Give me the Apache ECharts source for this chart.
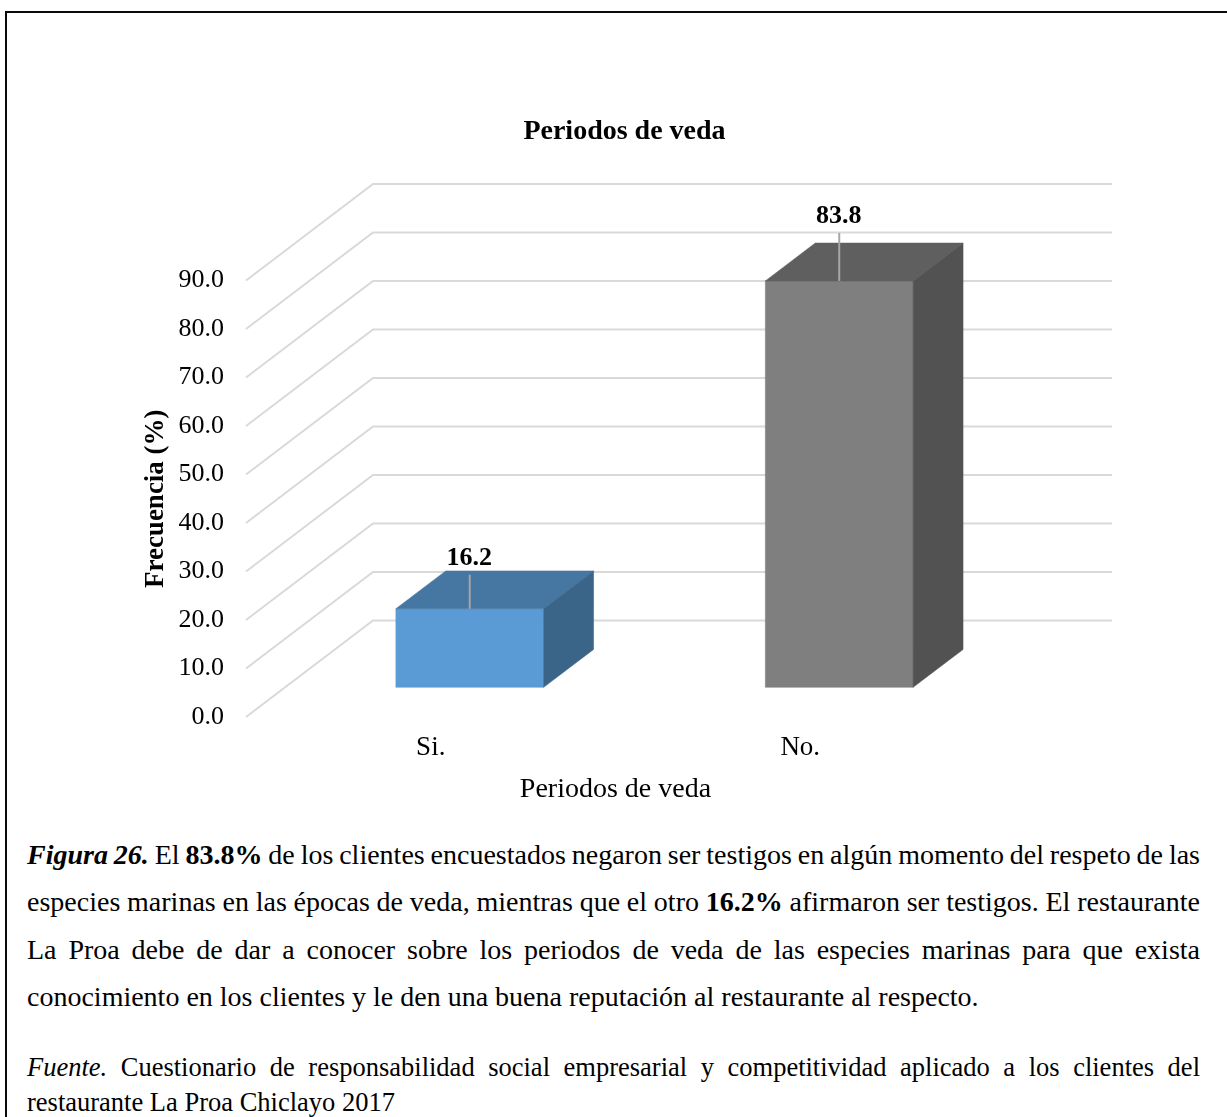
<!DOCTYPE html>
<html lang="es">
<head>
<meta charset="utf-8">
<title>Periodos de veda</title>
<script src="https://cdn.jsdelivr.net/npm/echarts@6/dist/echarts.min.js"></script>
<style>
  html, body { margin: 0; padding: 0; background: #fff; }
  #page { position: relative; width: 1227px; height: 1117px; overflow: hidden; }
  #frame { position: absolute; left: 5px; top: 11px; width: 1222px; height: 1106px;
           border-left: 2.5px solid #0a0a0a; border-top: 2.5px solid #0a0a0a; box-sizing: border-box; }
  #chart { position: absolute; left: 0; top: 0; width: 1227px; height: 820px; }
  .line { position: absolute; left: 27px; color: #000; white-space: nowrap;
          font-family: "Liberation Serif", "Times New Roman", serif; }
  .cap { font-size: 28px; line-height: 30px; }
  .src { font-size: 26.5px; line-height: 26px; }
</style>
</head>
<body>
<div id="page">
  <div id="frame"></div>
  <div id="chart"></div>
  <div class="line cap fit" style="top:840px"><b><i>Figura 26.</i></b> El <b>83.8%</b> de los clientes encuestados negaron ser testigos en algún momento del respeto de las</div>
  <div class="line cap fit" style="top:887px">especies marinas en las épocas de veda, mientras que el otro <b>16.2%</b> afirmaron ser testigos. El restaurante</div>
  <div class="line cap fit" style="top:935px">La Proa debe de dar a conocer sobre los periodos de veda de las especies marinas para que exista</div>
  <div class="line cap" style="top:982px">conocimiento en los clientes y le den una buena reputación al restaurante al respecto.</div>
  <div class="line src fit" style="top:1054px"><i>Fuente.</i> Cuestionario de responsabilidad social empresarial y competitividad aplicado a los clientes del</div>
  <div class="line src" style="top:1089px">restaurante La Proa Chiclayo 2017</div>
</div>
<script>
// Survey results: share of respondents per answer
const categories = ['Si.', 'No.'];
const values = [16.2, 83.8];
const ticks = [0, 10, 20, 30, 40, 50, 60, 70, 80, 90];
const chartTitle = 'Periodos de veda';
const xName = 'Periodos de veda';
const yName = 'Frecuencia (%)';

const SERIF = '"Liberation Serif", "Times New Roman", serif';
const palette = [
  { front: '#5b9bd5', top: '#4676a2', side: '#3a6488' },
  { front: '#7f7f7f', top: '#5f5f5f', side: '#525252' }
];

// Justify the caption lines by distributing the leftover width across word gaps,
// which also tightens lines slightly wider than the column
const COLUMN_WIDTH = 1173;
document.querySelectorAll('.fit').forEach(el => {
  const gaps = el.textContent.trim().split(/\s+/).length - 1;
  el.style.wordSpacing = (COLUMN_WIDTH - el.getBoundingClientRect().width) / gaps + 'px';
});

// Oblique projection of the floor depth, as a pixel shift per unit of depth
const DEPTH_X = 127, DEPTH_Y = -96.5;
const BAR_NEAR = 0.307, BAR_FAR = 0.70, BAR_BAND = 0.4, WALL_EXTENT = 739;

function shift(p, z) { return [p[0] + DEPTH_X * z, p[1] + DEPTH_Y * z]; }

function renderWall(params, api) {
  const f = api.coord([0, api.value(0)]);
  const left = [params.coordSys.x, f[1]];
  const back = shift(left, 1);
  return {
    type: 'polyline',
    shape: { points: [left, back, [back[0] + WALL_EXTENT, back[1]]] },
    style: { fill: 'none', stroke: '#d9d9d9', lineWidth: 2 },
    silent: true
  };
}

function renderBar(params, api) {
  const i = api.value(0), v = api.value(1);
  const c = palette[i];
  const base = api.coord([i, 0]);
  const head = api.coord([i, v]);
  const half = api.size([1, 0])[0] * BAR_BAND / 2;
  const corner = (dx, y, z) => shift([base[0] + dx, y], z);
  const poly = (pts, fill) => ({ type: 'polygon', shape: { points: pts }, style: { fill: fill, stroke: fill, lineWidth: 0.5 } });
  const fl = corner(-half, head[1], BAR_NEAR), fr = corner(half, head[1], BAR_NEAR);
  const bl = corner(-half, head[1], BAR_FAR), br = corner(half, head[1], BAR_FAR);
  const gl = corner(-half, base[1], BAR_NEAR), gr = corner(half, base[1], BAR_NEAR);
  const hr = corner(half, base[1], BAR_FAR);
  const mid = corner(0, head[1], BAR_NEAR);
  return {
    type: 'group',
    children: [
      poly([gl, gr, fr, fl], c.front),
      poly([fl, fr, br, bl], c.top),
      poly([gr, hr, br, fr], c.side),
      { type: 'line', shape: { x1: mid[0], y1: mid[1], x2: mid[0], y2: mid[1] - (i === 0 ? 34 : 48) },
        style: { stroke: '#a6a6a6', lineWidth: 2 } },
      { type: 'text', style: {
          text: v.toFixed(1), x: mid[0] - 0.5, y: mid[1] - (i === 0 ? 51 : 65),
          align: 'center', verticalAlign: 'middle', fill: '#000',
          font: 'bold 26px ' + SERIF } }
    ]
  };
}

const chart = echarts.init(document.getElementById('chart'), null, { renderer: 'canvas' });
chart.setOption({
  animation: false,
  backgroundColor: 'transparent',
  title: {
    text: chartTitle, left: 619.5, top: 113, textAlign: 'center',
    textStyle: { fontFamily: SERIF, fontWeight: 'bold', fontSize: 28, color: '#000' }
  },
  grid: { left: 246, top: 280.5, width: WALL_EXTENT, height: 436.5, containLabel: false },
  xAxis: {
    type: 'category', data: categories,
    axisLine: { show: false }, axisTick: { show: false }, splitLine: { show: false },
    axisLabel: { fontFamily: SERIF, fontSize: 27, color: '#000', margin: 17 },
    name: xName, nameLocation: 'middle', nameGap: 59,
    nameTextStyle: { fontFamily: SERIF, fontSize: 28, color: '#000' }
  },
  yAxis: {
    type: 'value', min: 0, max: 90, interval: 10,
    axisLine: { show: false }, axisTick: { show: false }, splitLine: { show: false },
    axisLabel: { fontFamily: SERIF, fontSize: 26, color: '#000', margin: 22, formatter: v => v.toFixed(1) },
    name: yName, nameLocation: 'middle', nameGap: 76, nameRotate: 90,
    nameMoveOverlap: false,
    nameTextStyle: { fontFamily: SERIF, fontWeight: 'bold', fontSize: 27, color: '#000' }
  },
  series: [
    { type: 'custom', clip: false, z: 1, renderItem: renderWall, data: ticks.map(t => [t]), encode: { y: 0 } },
    { type: 'custom', clip: false, z: 2, renderItem: renderBar, data: values.map((v, i) => [i, v]), encode: { x: 0, y: 1 } }
  ]
});
</script>
</body>
</html>
